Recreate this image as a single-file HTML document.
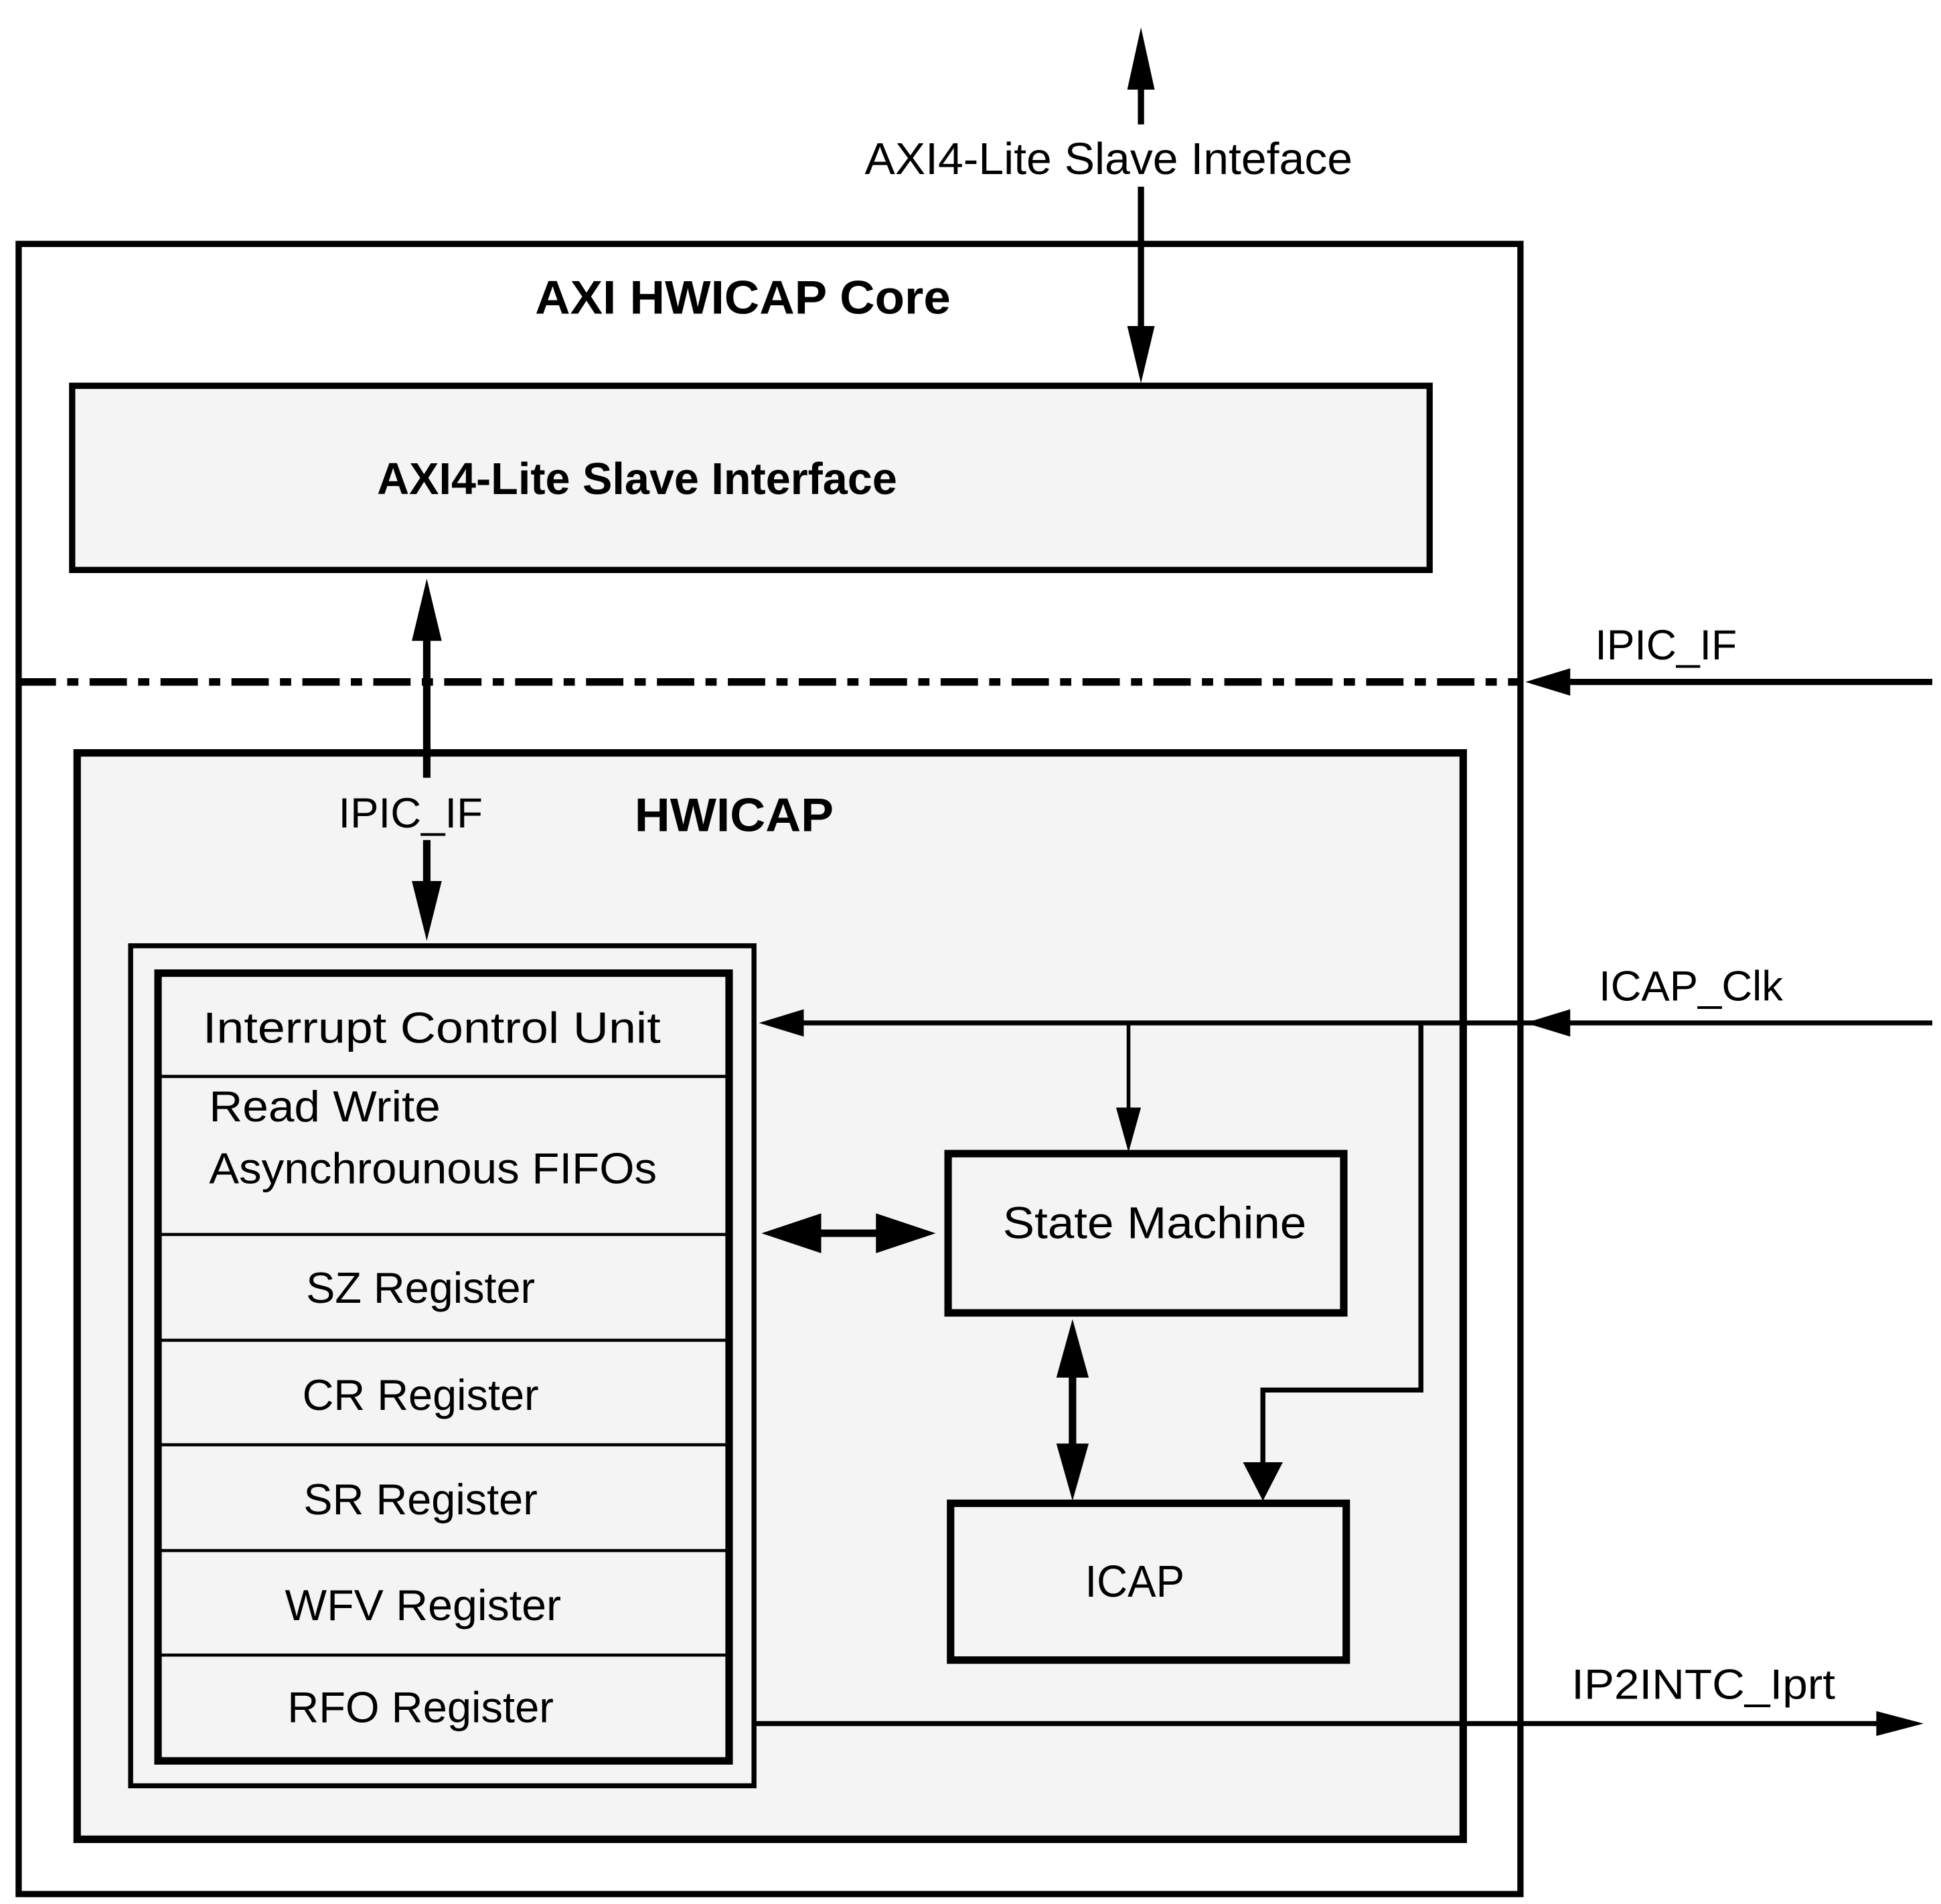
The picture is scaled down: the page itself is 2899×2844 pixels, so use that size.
<!DOCTYPE html>
<html><head><meta charset="utf-8"><style>
html,body{margin:0;padding:0;background:#fff}
svg{display:block}
text{font-family:"Liberation Sans",sans-serif;fill:#000}
</style></head><body>
<svg width="2899" height="2844" viewBox="0 0 1560 1530" preserveAspectRatio="none" xmlns="http://www.w3.org/2000/svg">
<rect x="0" y="0" width="1560" height="1530" fill="#fff"/>
<!-- outer core box -->
<rect x="15" y="196" width="1207" height="1326" fill="#fff" stroke="#000" stroke-width="5"/>
<text x="597" y="252" font-size="38" font-weight="bold" text-anchor="middle" textLength="334" lengthAdjust="spacingAndGlyphs">AXI HWICAP Core</text>
<!-- top arrow -->
<line x1="917" y1="60" x2="917" y2="100" stroke="#000" stroke-width="5"/>
<line x1="917" y1="150" x2="917" y2="270" stroke="#000" stroke-width="5"/>
<polygon points="917,22 906,72 928,72" fill="#000"/>
<polygon points="917,308 906,262 928,262" fill="#000"/>
<text x="695" y="140" font-size="36" textLength="392" lengthAdjust="spacingAndGlyphs">AXI4-Lite Slave Inteface</text>
<!-- AXI4-Lite box -->
<rect x="58" y="310" width="1091" height="148" fill="#f4f4f4" stroke="#000" stroke-width="5"/>
<text x="303" y="397" font-size="36" font-weight="bold" textLength="418" lengthAdjust="spacingAndGlyphs">AXI4-Lite Slave Interface</text>
<!-- dash-dot line -->
<line x1="15" y1="548" x2="1222" y2="548" stroke="#000" stroke-width="6" stroke-dasharray="30,9,9,9"/>
<line x1="1240" y1="548" x2="1553" y2="548" stroke="#000" stroke-width="5"/>
<polygon points="1226,548 1262,537 1262,559" fill="#000"/>
<text x="1282" y="530" font-size="34" textLength="114" lengthAdjust="spacingAndGlyphs">IPIC_IF</text>
<!-- HWICAP box -->
<rect x="62" y="605" width="1114" height="873" fill="#f4f4f4" stroke="#000" stroke-width="6"/>
<text x="510" y="668" font-size="38" font-weight="bold" textLength="160" lengthAdjust="spacingAndGlyphs">HWICAP</text>
<!-- vertical IPIC arrow -->
<line x1="343" y1="500" x2="343" y2="625" stroke="#000" stroke-width="6"/>
<polygon points="343,465 331,515 355,515" fill="#000"/>
<text x="272" y="665" font-size="34" textLength="116" lengthAdjust="spacingAndGlyphs">IPIC_IF</text>
<line x1="343" y1="675" x2="343" y2="720" stroke="#000" stroke-width="6"/>
<polygon points="343,756 331,708 355,708" fill="#000"/>
<!-- register boxes -->
<rect x="105" y="760" width="501" height="675" fill="#f4f4f4" stroke="#000" stroke-width="4"/>
<rect x="127" y="782" width="459" height="633" fill="#f4f4f4" stroke="#000" stroke-width="6"/>
<g stroke="#000" stroke-width="2.5">
<line x1="127" y1="865" x2="586" y2="865"/>
<line x1="127" y1="992" x2="586" y2="992"/>
<line x1="127" y1="1077" x2="586" y2="1077"/>
<line x1="127" y1="1161" x2="586" y2="1161"/>
<line x1="127" y1="1246" x2="586" y2="1246"/>
<line x1="127" y1="1330" x2="586" y2="1330"/>
</g>
<g font-size="35">
<text x="163" y="838" textLength="368" lengthAdjust="spacingAndGlyphs">Interrupt Control Unit</text>
<text x="168" y="901" textLength="186" lengthAdjust="spacingAndGlyphs">Read Write</text>
<text x="168" y="951" textLength="360" lengthAdjust="spacingAndGlyphs">Asynchrounous FIFOs</text>
<text x="338" y="1047" text-anchor="middle" textLength="184" lengthAdjust="spacingAndGlyphs">SZ Register</text>
<text x="338" y="1133" text-anchor="middle" textLength="190" lengthAdjust="spacingAndGlyphs">CR Register</text>
<text x="338" y="1217" text-anchor="middle" textLength="188" lengthAdjust="spacingAndGlyphs">SR Register</text>
<text x="340" y="1302" text-anchor="middle" textLength="222" lengthAdjust="spacingAndGlyphs">WFV Register</text>
<text x="338" y="1384" text-anchor="middle" textLength="214" lengthAdjust="spacingAndGlyphs">RFO Register</text>
</g>
<!-- ICAP_Clk -->
<line x1="640" y1="822" x2="1553" y2="822" stroke="#000" stroke-width="4"/>
<polygon points="1226,822 1262,811 1262,833" fill="#000"/>
<polygon points="610,822 646,811 646,833" fill="#000"/>
<text x="1285" y="804" font-size="34" textLength="148" lengthAdjust="spacingAndGlyphs">ICAP_Clk</text>
<line x1="907" y1="822" x2="907" y2="900" stroke="#000" stroke-width="3"/>
<polygon points="907,926 897,890 917,890" fill="#000"/>
<polyline points="1142,822 1142,1117 1015,1117 1015,1180" fill="none" stroke="#000" stroke-width="4"/>
<polygon points="1015,1206 999,1175 1031,1175" fill="#000"/>
<!-- State Machine -->
<rect x="762" y="927" width="318" height="128" fill="#f4f4f4" stroke="#000" stroke-width="6"/>
<text x="806" y="995" font-size="36" textLength="244" lengthAdjust="spacingAndGlyphs">State Machine</text>
<!-- horizontal double arrow -->
<line x1="640" y1="991" x2="720" y2="991" stroke="#000" stroke-width="6"/>
<polygon points="612,991 660,975 660,1007" fill="#000"/>
<polygon points="752,991 704,975 704,1007" fill="#000"/>
<!-- vertical double arrow -->
<line x1="862" y1="1090" x2="862" y2="1175" stroke="#000" stroke-width="6"/>
<polygon points="862,1060 849,1107 875,1107" fill="#000"/>
<polygon points="862,1206 849,1160 875,1160" fill="#000"/>
<!-- ICAP -->
<rect x="764" y="1208" width="318" height="126" fill="#f4f4f4" stroke="#000" stroke-width="6"/>
<text x="912" y="1283" font-size="36" text-anchor="middle" textLength="80" lengthAdjust="spacingAndGlyphs">ICAP</text>
<!-- IP2INTC -->
<line x1="606" y1="1385" x2="1515" y2="1385" stroke="#000" stroke-width="4"/>
<polygon points="1546,1385 1508,1375 1508,1395" fill="#000"/>
<text x="1263" y="1365" font-size="34" textLength="212" lengthAdjust="spacingAndGlyphs">IP2INTC_Iprt</text>
</svg>
</body></html>
